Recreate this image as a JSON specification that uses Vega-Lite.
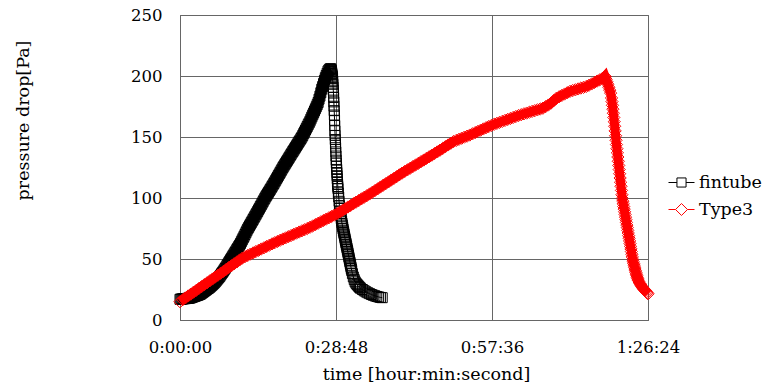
{
"$schema": "https://vega.github.io/schema/vega-lite/v6.json",
"autosize": {"type": "none"},
"padding": {"left": 180, "top": 15, "right": 115, "bottom": 65},
"width": 468,
"height": 305,
"background": "white",
"config": {
  "view": {"stroke": "#666666", "strokeWidth": 1},
  "font": "DejaVu Serif",
  "axis": {"domainColor": "#666666", "gridColor": "#666666", "gridOpacity": 1, "labelColor": "black", "titleColor": "black", "labelFont": "DejaVu Serif", "titleFont": "DejaVu Serif", "titleFontWeight": "normal", "labelFontSize": 16.5, "titleFontSize": 17.5, "ticks": false, "tickSize": 0, "labelFlush": false, "labelOverlap": false}
},
"datasets": {
"fin": [{"t":0,"p":17.0},{"t":10,"p":17.1},{"t":20,"p":17.2},{"t":30,"p":17.3},{"t":40,"p":17.4},{"t":50,"p":17.5},{"t":60,"p":17.5},{"t":70,"p":17.6},{"t":80,"p":17.7},{"t":90,"p":17.8},{"t":100,"p":17.9},{"t":110,"p":18.0},{"t":120,"p":18.2},{"t":130,"p":18.5},{"t":140,"p":18.8},{"t":150,"p":19.1},{"t":160,"p":19.3},{"t":170,"p":19.6},{"t":180,"p":19.9},{"t":190,"p":20.1},{"t":200,"p":20.4},{"t":210,"p":20.7},{"t":220,"p":21.0},{"t":230,"p":21.4},{"t":240,"p":22.0},{"t":250,"p":22.5},{"t":260,"p":23.1},{"t":270,"p":23.6},{"t":280,"p":24.2},{"t":290,"p":24.7},{"t":300,"p":25.3},{"t":310,"p":25.8},{"t":320,"p":26.3},{"t":330,"p":26.9},{"t":340,"p":27.6},{"t":350,"p":28.3},{"t":360,"p":29.0},{"t":370,"p":29.7},{"t":380,"p":30.4},{"t":390,"p":31.2},{"t":400,"p":32.1},{"t":410,"p":33.0},{"t":420,"p":33.9},{"t":430,"p":34.8},{"t":440,"p":35.7},{"t":450,"p":36.8},{"t":460,"p":37.9},{"t":470,"p":38.9},{"t":480,"p":40.0},{"t":490,"p":41.1},{"t":500,"p":42.2},{"t":510,"p":43.4},{"t":520,"p":44.6},{"t":530,"p":45.8},{"t":540,"p":47.0},{"t":550,"p":48.2},{"t":560,"p":49.4},{"t":570,"p":50.6},{"t":580,"p":51.8},{"t":590,"p":53.0},{"t":600,"p":54.2},{"t":610,"p":55.4},{"t":620,"p":56.6},{"t":630,"p":57.8},{"t":640,"p":59.0},{"t":650,"p":60.2},{"t":660,"p":61.4},{"t":670,"p":62.7},{"t":680,"p":64.2},{"t":690,"p":65.7},{"t":700,"p":67.2},{"t":710,"p":68.6},{"t":720,"p":70.1},{"t":730,"p":71.6},{"t":740,"p":73.1},{"t":750,"p":74.6},{"t":760,"p":75.9},{"t":770,"p":77.2},{"t":780,"p":78.5},{"t":790,"p":79.8},{"t":800,"p":81.1},{"t":810,"p":82.4},{"t":820,"p":83.7},{"t":830,"p":85.0},{"t":840,"p":86.3},{"t":850,"p":87.6},{"t":860,"p":88.9},{"t":870,"p":90.3},{"t":880,"p":91.6},{"t":890,"p":93.0},{"t":900,"p":94.3},{"t":910,"p":95.7},{"t":920,"p":97.0},{"t":930,"p":98.4},{"t":940,"p":99.7},{"t":950,"p":101.0},{"t":960,"p":102.2},{"t":970,"p":103.4},{"t":980,"p":104.6},{"t":990,"p":105.8},{"t":1000,"p":107.0},{"t":1010,"p":108.2},{"t":1020,"p":109.5},{"t":1030,"p":110.7},{"t":1040,"p":111.9},{"t":1050,"p":113.2},{"t":1060,"p":114.5},{"t":1070,"p":115.8},{"t":1080,"p":117.1},{"t":1090,"p":118.4},{"t":1100,"p":119.7},{"t":1110,"p":121.0},{"t":1120,"p":122.3},{"t":1130,"p":123.6},{"t":1140,"p":124.9},{"t":1150,"p":126.1},{"t":1160,"p":127.3},{"t":1170,"p":128.5},{"t":1180,"p":129.7},{"t":1190,"p":130.9},{"t":1200,"p":132.1},{"t":1210,"p":133.3},{"t":1220,"p":134.5},{"t":1230,"p":135.7},{"t":1240,"p":136.9},{"t":1250,"p":138.1},{"t":1260,"p":139.2},{"t":1270,"p":140.4},{"t":1280,"p":141.6},{"t":1290,"p":142.8},{"t":1300,"p":144.0},{"t":1310,"p":145.2},{"t":1320,"p":146.4},{"t":1330,"p":147.5},{"t":1340,"p":148.7},{"t":1350,"p":149.9},{"t":1360,"p":151.3},{"t":1370,"p":152.8},{"t":1380,"p":154.2},{"t":1390,"p":155.7},{"t":1400,"p":157.2},{"t":1410,"p":158.6},{"t":1420,"p":160.1},{"t":1430,"p":161.5},{"t":1440,"p":163.0},{"t":1450,"p":164.7},{"t":1460,"p":166.4},{"t":1470,"p":168.1},{"t":1480,"p":169.7},{"t":1490,"p":171.4},{"t":1500,"p":173.1},{"t":1510,"p":174.8},{"t":1520,"p":176.5},{"t":1530,"p":178.3},{"t":1540,"p":181.0},{"t":1550,"p":183.5},{"t":1560,"p":186.3},{"t":1570,"p":189.2},{"t":1580,"p":191.4},{"t":1590,"p":193.9},{"t":1600,"p":196.5},{"t":1610,"p":198.6},{"t":1620,"p":200.4},{"t":1630,"p":202.2},{"t":1640,"p":204.1},{"t":1650,"p":205.0},{"t":1660,"p":205.8},{"t":1670,"p":206.0},{"t":1672,"p":205.4},{"t":1674,"p":204.8},{"t":1676,"p":204.2},{"t":1678,"p":203.6},{"t":1680,"p":203.0},{"t":1682,"p":202.0},{"t":1684,"p":201.0},{"t":1686,"p":200.0},{"t":1688,"p":199.0},{"t":1690,"p":198.0},{"t":1692,"p":195.6},{"t":1694,"p":193.2},{"t":1696,"p":190.8},{"t":1698,"p":188.4},{"t":1700,"p":186.0},{"t":1702,"p":182.4},{"t":1704,"p":178.8},{"t":1706,"p":175.2},{"t":1708,"p":171.6},{"t":1710,"p":168.0},{"t":1712,"p":163.7},{"t":1714,"p":159.4},{"t":1716,"p":155.1},{"t":1718,"p":151.3},{"t":1720,"p":147.9},{"t":1722,"p":144.5},{"t":1724,"p":141.2},{"t":1726,"p":137.8},{"t":1728,"p":134.4},{"t":1730,"p":131.0},{"t":1732,"p":128.5},{"t":1734,"p":125.9},{"t":1736,"p":123.4},{"t":1738,"p":120.9},{"t":1740,"p":118.3},{"t":1742,"p":115.8},{"t":1744,"p":113.3},{"t":1746,"p":111.1},{"t":1748,"p":109.4},{"t":1750,"p":107.7},{"t":1754,"p":104.2},{"t":1758,"p":100.8},{"t":1762,"p":97.3},{"t":1766,"p":93.9},{"t":1770,"p":91.4},{"t":1774,"p":89.3},{"t":1778,"p":87.3},{"t":1782,"p":85.2},{"t":1786,"p":83.1},{"t":1790,"p":81.0},{"t":1794,"p":79.4},{"t":1798,"p":77.9},{"t":1802,"p":76.3},{"t":1806,"p":74.7},{"t":1810,"p":73.1},{"t":1814,"p":71.7},{"t":1818,"p":70.3},{"t":1822,"p":68.9},{"t":1826,"p":67.5},{"t":1830,"p":66.0},{"t":1834,"p":64.6},{"t":1838,"p":63.2},{"t":1842,"p":61.8},{"t":1846,"p":60.4},{"t":1850,"p":58.9},{"t":1854,"p":57.5},{"t":1858,"p":56.1},{"t":1862,"p":54.7},{"t":1866,"p":53.3},{"t":1870,"p":51.8},{"t":1874,"p":50.4},{"t":1878,"p":49.0},{"t":1882,"p":47.6},{"t":1886,"p":46.2},{"t":1890,"p":44.8},{"t":1894,"p":43.3},{"t":1898,"p":41.9},{"t":1902,"p":40.5},{"t":1910,"p":38.0},{"t":1920,"p":35.3},{"t":1930,"p":33.1},{"t":1940,"p":31.3},{"t":1950,"p":30.1},{"t":1960,"p":29.2},{"t":1970,"p":28.4},{"t":1980,"p":27.5},{"t":1990,"p":26.7},{"t":2000,"p":26.0},{"t":2020,"p":25.0},{"t":2040,"p":24.0},{"t":2060,"p":23.1},{"t":2080,"p":22.3},{"t":2100,"p":21.6},{"t":2120,"p":20.9},{"t":2140,"p":20.3},{"t":2160,"p":19.8},{"t":2180,"p":19.3},{"t":2200,"p":18.9},{"t":2220,"p":18.5},{"t":2240,"p":18.3}],
"t3": [{"t":0,"p":15.0},{"t":30,"p":16.6},{"t":60,"p":18.1},{"t":90,"p":19.7},{"t":120,"p":21.2},{"t":150,"p":22.8},{"t":180,"p":24.3},{"t":210,"p":25.9},{"t":240,"p":27.4},{"t":270,"p":29.0},{"t":300,"p":30.5},{"t":330,"p":32.1},{"t":360,"p":33.6},{"t":390,"p":35.2},{"t":420,"p":36.7},{"t":450,"p":38.3},{"t":480,"p":39.8},{"t":510,"p":41.4},{"t":540,"p":43.0},{"t":570,"p":44.5},{"t":600,"p":46.1},{"t":630,"p":47.6},{"t":660,"p":49.2},{"t":690,"p":50.7},{"t":720,"p":51.9},{"t":750,"p":52.9},{"t":780,"p":54.0},{"t":810,"p":55.0},{"t":840,"p":56.1},{"t":870,"p":57.1},{"t":900,"p":58.2},{"t":930,"p":59.2},{"t":960,"p":60.3},{"t":990,"p":61.3},{"t":1020,"p":62.4},{"t":1050,"p":63.4},{"t":1080,"p":64.4},{"t":1110,"p":65.4},{"t":1140,"p":66.4},{"t":1170,"p":67.3},{"t":1200,"p":68.3},{"t":1230,"p":69.2},{"t":1260,"p":70.2},{"t":1290,"p":71.2},{"t":1320,"p":72.1},{"t":1350,"p":73.1},{"t":1380,"p":74.0},{"t":1410,"p":75.0},{"t":1440,"p":76.0},{"t":1470,"p":77.1},{"t":1500,"p":78.2},{"t":1530,"p":79.3},{"t":1560,"p":80.5},{"t":1590,"p":81.6},{"t":1620,"p":82.7},{"t":1650,"p":83.8},{"t":1680,"p":84.9},{"t":1710,"p":86.0},{"t":1740,"p":87.2},{"t":1770,"p":88.6},{"t":1800,"p":89.9},{"t":1830,"p":91.2},{"t":1860,"p":92.6},{"t":1890,"p":93.9},{"t":1920,"p":95.3},{"t":1950,"p":96.6},{"t":1980,"p":97.9},{"t":2010,"p":99.3},{"t":2040,"p":100.6},{"t":2070,"p":101.9},{"t":2100,"p":103.3},{"t":2130,"p":104.7},{"t":2160,"p":106.1},{"t":2190,"p":107.5},{"t":2220,"p":109.0},{"t":2250,"p":110.4},{"t":2280,"p":111.8},{"t":2310,"p":113.2},{"t":2340,"p":114.7},{"t":2370,"p":116.1},{"t":2400,"p":117.5},{"t":2430,"p":119.0},{"t":2460,"p":120.4},{"t":2490,"p":121.8},{"t":2520,"p":123.1},{"t":2550,"p":124.4},{"t":2580,"p":125.8},{"t":2610,"p":127.1},{"t":2640,"p":128.4},{"t":2670,"p":129.8},{"t":2700,"p":131.1},{"t":2730,"p":132.5},{"t":2760,"p":133.8},{"t":2790,"p":135.1},{"t":2820,"p":136.5},{"t":2850,"p":137.8},{"t":2880,"p":139.2},{"t":2910,"p":140.6},{"t":2940,"p":142.1},{"t":2970,"p":143.5},{"t":3000,"p":144.9},{"t":3030,"p":146.3},{"t":3060,"p":147.2},{"t":3090,"p":148.1},{"t":3120,"p":149.0},{"t":3150,"p":149.9},{"t":3180,"p":150.7},{"t":3210,"p":151.6},{"t":3240,"p":152.6},{"t":3270,"p":153.6},{"t":3300,"p":154.6},{"t":3330,"p":155.6},{"t":3360,"p":156.6},{"t":3390,"p":157.6},{"t":3420,"p":158.6},{"t":3450,"p":159.5},{"t":3480,"p":160.4},{"t":3510,"p":161.2},{"t":3540,"p":162.0},{"t":3570,"p":162.8},{"t":3600,"p":163.6},{"t":3630,"p":164.4},{"t":3660,"p":165.2},{"t":3690,"p":166.0},{"t":3720,"p":166.8},{"t":3750,"p":167.6},{"t":3780,"p":168.3},{"t":3810,"p":169.0},{"t":3840,"p":169.6},{"t":3870,"p":170.3},{"t":3900,"p":171.0},{"t":3930,"p":171.6},{"t":3960,"p":172.3},{"t":3990,"p":172.9},{"t":4020,"p":173.6},{"t":4050,"p":174.9},{"t":4080,"p":176.2},{"t":4110,"p":177.8},{"t":4140,"p":179.8},{"t":4170,"p":181.8},{"t":4200,"p":183.0},{"t":4230,"p":184.1},{"t":4260,"p":185.2},{"t":4290,"p":186.3},{"t":4320,"p":187.4},{"t":4350,"p":188.1},{"t":4380,"p":188.7},{"t":4410,"p":189.4},{"t":4440,"p":190.1},{"t":4470,"p":190.7},{"t":4500,"p":191.4},{"t":4530,"p":192.4},{"t":4560,"p":193.5},{"t":4590,"p":194.7},{"t":4620,"p":195.8},{"t":4650,"p":196.9},{"t":4680,"p":198.1},{"t":4700,"p":199.0},{"t":4708,"p":199.7},{"t":4710,"p":199.3},{"t":4720,"p":197.3},{"t":4730,"p":195.2},{"t":4740,"p":193.2},{"t":4750,"p":190.8},{"t":4760,"p":188.4},{"t":4770,"p":186.0},{"t":4780,"p":182.0},{"t":4785,"p":179.0},{"t":4790,"p":176.0},{"t":4795,"p":172.8},{"t":4800,"p":169.5},{"t":4805,"p":166.0},{"t":4810,"p":162.5},{"t":4815,"p":158.8},{"t":4820,"p":155.0},{"t":4825,"p":151.0},{"t":4830,"p":147.3},{"t":4835,"p":143.8},{"t":4840,"p":140.4},{"t":4845,"p":137.0},{"t":4850,"p":133.6},{"t":4855,"p":130.1},{"t":4860,"p":126.7},{"t":4865,"p":123.3},{"t":4870,"p":119.9},{"t":4875,"p":116.4},{"t":4880,"p":113.0},{"t":4885,"p":109.6},{"t":4890,"p":106.2},{"t":4895,"p":102.7},{"t":4900,"p":99.6},{"t":4905,"p":97.4},{"t":4910,"p":95.2},{"t":4915,"p":93.0},{"t":4920,"p":90.9},{"t":4925,"p":88.7},{"t":4930,"p":86.5},{"t":4935,"p":84.3},{"t":4940,"p":82.2},{"t":4945,"p":80.0},{"t":4950,"p":77.8},{"t":4955,"p":75.7},{"t":4960,"p":73.5},{"t":4965,"p":71.3},{"t":4970,"p":69.1},{"t":4975,"p":67.0},{"t":4980,"p":64.8},{"t":4985,"p":62.6},{"t":4990,"p":60.4},{"t":4995,"p":58.3},{"t":5000,"p":56.1},{"t":5005,"p":53.9},{"t":5010,"p":51.7},{"t":5015,"p":49.6},{"t":5020,"p":47.9},{"t":5025,"p":46.3},{"t":5030,"p":44.8},{"t":5035,"p":43.3},{"t":5040,"p":41.8},{"t":5045,"p":40.4},{"t":5050,"p":39.0},{"t":5055,"p":37.6},{"t":5060,"p":36.3},{"t":5065,"p":35.0},{"t":5070,"p":33.8},{"t":5075,"p":32.7},{"t":5085,"p":31.2},{"t":5095,"p":29.8},{"t":5105,"p":28.6},{"t":5115,"p":27.5},{"t":5125,"p":26.4},{"t":5135,"p":25.5},{"t":5145,"p":24.7},{"t":5155,"p":23.9},{"t":5165,"p":23.0},{"t":5175,"p":22.2},{"t":5184,"p":21.5}],
"leg": [{"s":"fintube"},{"s":"Type3"}]
},
"layer": [
  {
    "data": {"name": "fin"},
    "mark": {"type": "line", "color": "black", "strokeWidth": 1},
    "encoding": {
      "x": {"field": "t", "type": "quantitative", "scale": {"domain": [0, 5184], "nice": false, "zero": false},
            "axis": {"values": [0, 1728, 3456, 5184], "labelExpr": "utcFormat(datum.value*1000, '%-H:%M:%S')", "title": "time [hour:min:second]", "grid": true, "labelPadding": 19, "titleX": 246, "titleY": 45}},
      "y": {"field": "p", "type": "quantitative", "scale": {"domain": [0, 250], "nice": false},
            "axis": {"values": [0, 50, 100, 150, 200, 250], "title": "pressure drop[Pa]", "grid": true, "labelPadding": 18, "titleX": -148, "titleY": 105}}
    }
  },
  {
    "data": {"name": "fin"},
    "transform": [{"filter": "datum.t <= 1670"}],
    "mark": {"type": "line", "color": "black", "strokeWidth": 11},
    "encoding": {
      "x": {"field": "t", "type": "quantitative"},
      "y": {"field": "p", "type": "quantitative"}
    }
  },
  {
    "data": {"name": "fin"},
    "mark": {"type": "point", "shape": "square", "size": 100, "filled": false, "color": "black", "strokeWidth": 1, "opacity": 1},
    "encoding": {
      "x": {"field": "t", "type": "quantitative"},
      "y": {"field": "p", "type": "quantitative"}
    }
  },
  {
    "data": {"name": "t3"},
    "mark": {"type": "line", "color": "red", "strokeWidth": 9},
    "encoding": {
      "x": {"field": "t", "type": "quantitative"},
      "y": {"field": "p", "type": "quantitative"}
    }
  },
  {
    "data": {"name": "t3"},
    "mark": {"type": "point", "shape": "diamond", "size": 150, "filled": false, "color": "red", "strokeWidth": 1, "opacity": 1},
    "encoding": {
      "x": {"field": "t", "type": "quantitative"},
      "y": {"field": "p", "type": "quantitative"}
    }
  },
  {
    "data": {"name": "leg"},
    "transform": [{"filter": "false"}],
    "mark": {"type": "point", "filled": false, "strokeWidth": 1, "opacity": 1},
    "encoding": {
      "color": {"field": "s", "type": "nominal", "scale": {"domain": ["fintube", "Type3"], "range": ["black", "red"]},
                "legend": {"title": null, "orient": "none", "legendX": 488, "legendY": 154, "symbolSize": 676, "symbolStrokeWidth": 1, "labelFontSize": 17.5, "labelFont": "DejaVu Serif", "labelColor": "black", "rowPadding": 5, "padding": 0, "labelOffset": 4}},
      "shape": {"field": "s", "type": "nominal", "scale": {"domain": ["fintube", "Type3"], "range": ["M-1,0H-0.35M0.35,0H1M-0.35,-0.35H0.35V0.35H-0.35Z", "M-1,0H-0.46M0.46,0H1M0,-0.46L0.46,0L0,0.46L-0.46,0Z"]},
                "legend": {"title": null, "orient": "none", "legendX": 488, "legendY": 154, "symbolSize": 676, "symbolStrokeWidth": 1, "labelFontSize": 17.5, "labelFont": "DejaVu Serif", "labelColor": "black", "rowPadding": 5, "padding": 0, "labelOffset": 4}}
    }
  }
]
}
